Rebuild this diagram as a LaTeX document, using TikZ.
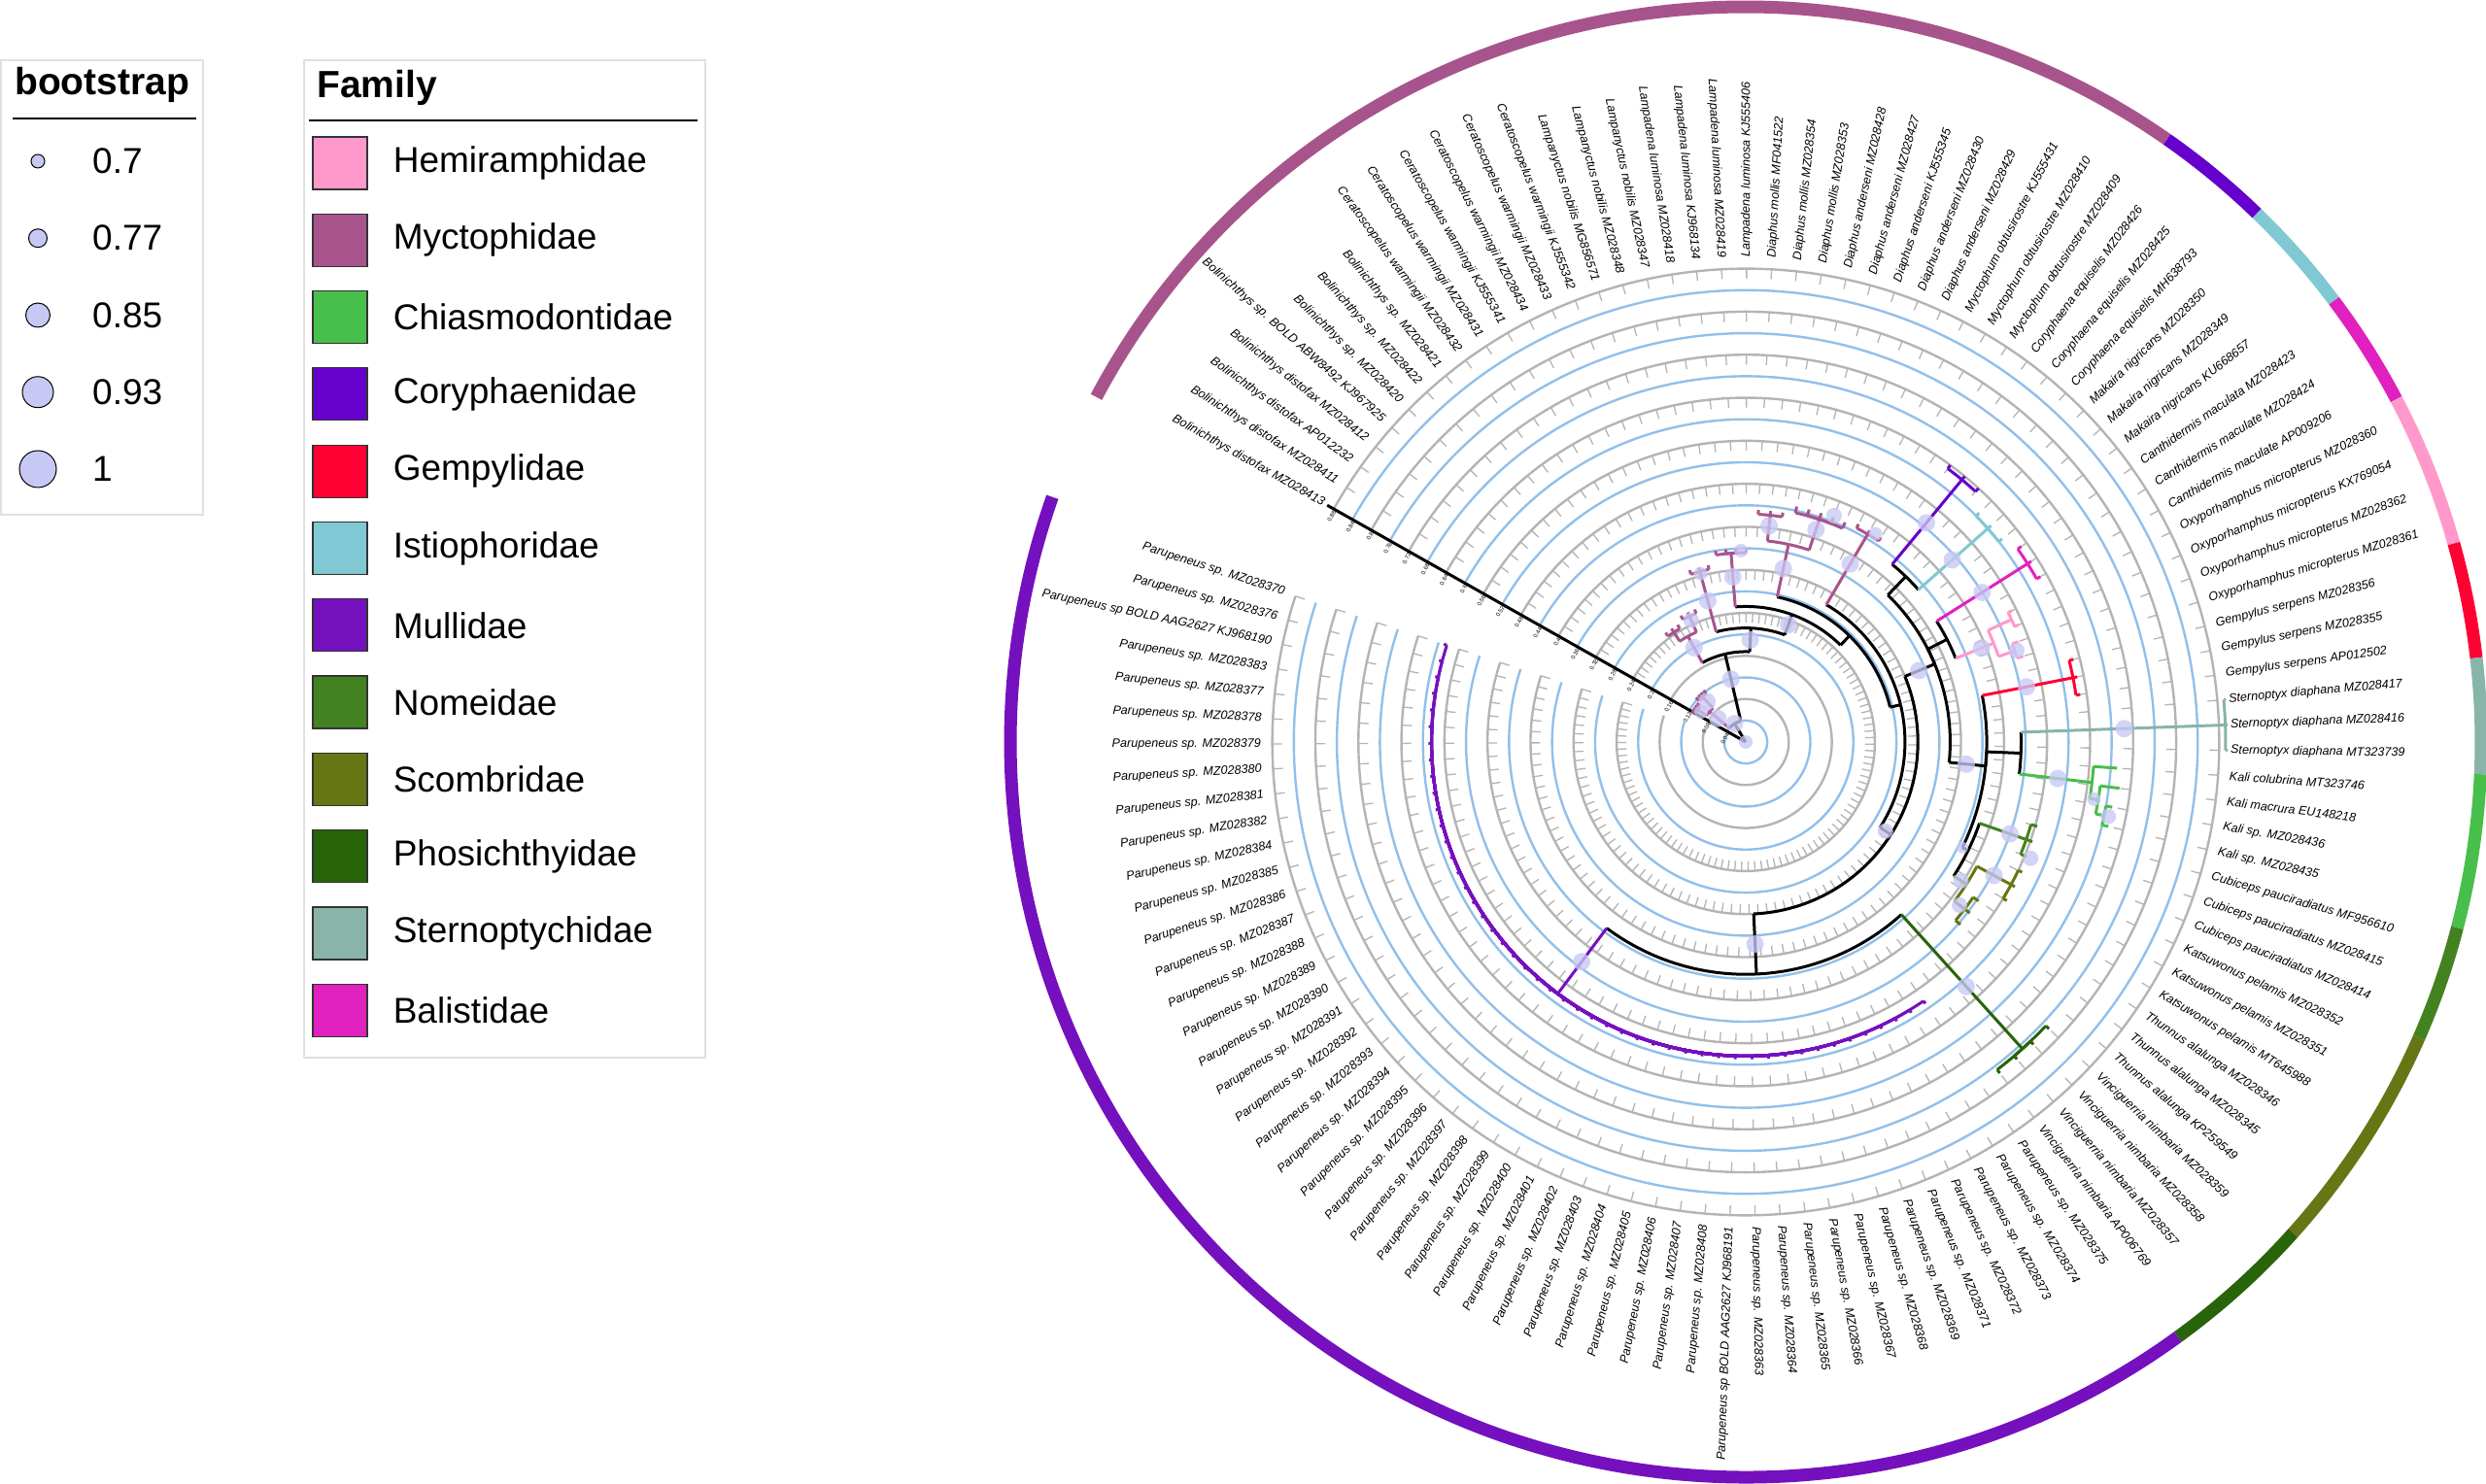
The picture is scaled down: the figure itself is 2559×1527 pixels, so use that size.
\documentclass[tikz,border=0pt]{standalone}
\usepackage{fontspec}
\setmainfont{Liberation Sans}
\usetikzlibrary{positioning}

% family colours
\definecolor{hemi}{RGB}{255,153,204}
\definecolor{myc}{RGB}{168,84,140}
\definecolor{chias}{RGB}{72,190,75}
\definecolor{cory}{RGB}{102,0,204}
\definecolor{gemp}{RGB}{255,0,51}
\definecolor{istio}{RGB}{128,200,212}
\definecolor{mull}{RGB}{117,16,190}
\definecolor{nome}{RGB}{67,130,32}
\definecolor{scomb}{RGB}{102,118,20}
\definecolor{phos}{RGB}{40,100,10}
\definecolor{stern}{RGB}{136,180,170}
\definecolor{bal}{RGB}{225,32,192}
\definecolor{gridgray}{RGB}{180,180,180}
\definecolor{gridblue}{RGB}{145,192,234}
\definecolor{bootfill}{RGB}{200,200,245}

\tikzset{%
  % Specifications for style of the circular grid and the tree:
        gridGray/.style = {draw=gridgray, line width=2.4pt},
        gridBlue/.style = {draw=gridblue, line width=2.4pt},
        gridTick/.style = {draw=gridgray, line width=1.3pt},
          branch/.style = {line width=3pt, line join=miter},
         famBand/.style = {line width=13pt},
         bootDot/.style = {fill=bootfill, fill opacity=0.78},
        axisLine/.style = {draw=black, line width=3pt},
       axisLabel/.style = {inner sep=0.5pt, font=\fontsize{6}{7}\selectfont},
       leafLabel/.style = {inner sep=0pt, font=\fontsize{12.6}{15}\selectfont\itshape},
  % Specifications for style of the legends:
     legendFrame/.style = {draw=black!12, line width=1.5pt},
      legendRule/.style = {draw=black, line width=1.6pt},
     legendTitle/.style = {inner sep=0pt, font=\fontsize{39}{46}\selectfont\bfseries},
      legendText/.style = {inner sep=0pt, font=\fontsize{37}{44}\selectfont},
       legendDot/.style = {circle, draw=black, line width=1pt, fill=bootfill, inner sep=0pt},
          swatch/.style = {rectangle, draw=black!80, line width=1.2pt,
                           minimum width=56pt, minimum height=54pt, inner sep=0pt},
}

% one grid step (0.04) in pt, and the angle of leaf number #1
\newcommand{\ucirc}{22.15}
\newcommand{\leafAng}[1]{150.5-3.03*(#1)}

% branch: arc colour, stem colour, parent radius, parent leaf-position, child radius, child leaf-position
\newcommand{\brn}[6]{%
  \pgfmathsetmacro{\angA}{\leafAng{#4}}%
  \pgfmathsetmacro{\angB}{\leafAng{#6}}%
  \pgfmathsetmacro{\radA}{(#3)*\ucirc}%
  \pgfmathsetmacro{\radB}{(#5)*\ucirc}%
  \draw[branch,#1] (\angA:\radA pt) arc[start angle=\angA,end angle=\angB,radius=\radA pt];%
  \draw[branch,#2] (\angB:\radA pt) -- (\angB:\radB pt);%
}
% bootstrap dot: leaf-position, radius, size
\newcommand{\bootAt}[3]{%
  \pgfmathsetmacro{\angA}{\leafAng{#1}}%
  \pgfmathsetmacro{\radA}{(#2)*\ucirc}%
  \fill[bootDot] (\angA:\radA pt) circle[radius=#3pt];%
}
% outer family band: colour, first leaf, last leaf
\newcommand{\famBandArc}[3]{%
  \pgfmathsetmacro{\angA}{\leafAng{#2-0.5}}%
  \pgfmathsetmacro{\angB}{\leafAng{#3+0.5}}%
  \draw[famBand,#1] (\angA:757pt) arc[start angle=\angA,end angle=\angB,radius=757pt];%
}

\begin{document}
\begin{tikzpicture}[x=1pt, y=1pt]
  \useasboundingbox (0,0) rectangle (2559,1527);
  \fill[white] (0,0) rectangle (2559,1527);

  % bootstrap legend
  \draw[legendFrame] (1,997) rectangle (209,1465);
  \node (bootTitle) [legendTitle, anchor=west] at (15,1440) {bootstrap};
  \draw[legendRule] (13,1405) -- (202,1405);
  \foreach \v/\rr [count=\i from 0] in {0.7/7,0.77/9.5,0.85/12.5,0.93/16,1/19} {
    \pgfmathsetmacro{\yy}{1361-79.25*\i}
    \node (bootDot\i) [legendDot, minimum size=2*\rr pt] at (39,\yy) {};
    \node (bootLab\i) [legendText, anchor=west] at (95,\yy) {\v};
  }

  % family legend
  \draw[legendFrame] (313,438) rectangle (726,1465);
  \node (famTitle) [legendTitle, anchor=west] at (326,1437) {Family};
  \draw[legendRule] (318,1403) -- (718,1403);
  \foreach \col/\fam [count=\i from 0] in {hemi/Hemiramphidae, myc/Myctophidae,
      chias/Chiasmodontidae, cory/Coryphaenidae, gemp/Gempylidae, istio/Istiophoridae,
      mull/Mullidae, nome/Nomeidae, scomb/Scombridae, phos/Phosichthyidae,
      stern/Sternoptychidae, bal/Balistidae} {
    \pgfmathsetmacro{\yy}{1359-79.3*\i}
    \node (famBox\i) [swatch, fill=\col] at (350,\yy) {};
    \node (famLab\i) [legendText, right=26pt of famBox\i] {\fam};
  }

  \begin{scope}[shift={(1797,763)}]
    % circular grid, every 0.04
    \foreach \k in {1,...,22} {
      \pgfmathsetmacro{\radA}{\k*\ucirc}
      \ifodd\k\relax
        \draw[gridBlue] (150.5:\radA pt) arc[start angle=150.5,end angle=-197.95,radius=\radA pt];
      \else
        \draw[gridGray] (150.5:\radA pt) arc[start angle=150.5,end angle=-197.95,radius=\radA pt];
      \fi
    }
    \foreach \k in {6,8,...,22} {
      \pgfmathsetmacro{\radA}{\k*\ucirc}
      \pgfmathsetmacro{\radB}{\k*\ucirc-10}
      \draw[gridTick] \foreach \j [evaluate=\j as \angA using 150.5-3.03*\j] in {0,...,115}
        {(\angA:\radA pt) -- (\angA:\radB pt)};
    }

    % outer band of families
    \famBandArc{myc}{0}{31}
    \famBandArc{cory}{32}{34}
    \famBandArc{istio}{35}{37}
    \famBandArc{bal}{38}{40}
    \famBandArc{hemi}{41}{44}
    \famBandArc{gemp}{45}{47}
    \famBandArc{stern}{48}{50}
    \famBandArc{chias}{51}{54}
    \famBandArc{nome}{55}{57}
    \famBandArc{scomb}{58}{63}
    \famBandArc{phos}{64}{67}
    \famBandArc{mull}{68}{115}

    % radial axis
    \coordinate (treeRoot) at (0,0);
    \coordinate (axisEnd) at (150.5:495pt);
    \draw[axisLine] (treeRoot) -- (axisEnd);
    \foreach \v [count=\k] in {0.04,0.08,0.12,0.16,0.2,0.24,0.28,0.32,0.36,0.4,0.44,
                               0.48,0.52,0.56,0.6,0.64,0.68,0.72,0.76,0.8,0.84,0.88} {
      \pgfmathsetmacro{\radA}{\k*\ucirc}
      \node (axisTick\k) [axisLabel, rotate=60.5, anchor=east, xshift=-1pt, yshift=-1.8pt]
        at (150.5:\radA pt) {\v};
    }

    % backbone of the tree
    \brn{black}{black}{0.01}{9.6}{1.0}{9.6}
    \brn{black}{myc}{1.0}{9.6}{2.2}{3.5}
    \brn{black}{black}{1.0}{9.6}{4.2}{15.6}
    \brn{myc}{myc}{2.2}{3.5}{2.7}{1.5}
    \brn{myc}{myc}{2.2}{3.5}{2.9}{5.5}
    \foreach \k in {0,...,3} {\brn{myc}{myc}{2.7}{1.5}{2.9}{\k}}
    \foreach \k in {4,...,7} {\brn{myc}{myc}{2.9}{5.5}{3.1}{\k}}
    \brn{black}{myc}{4.2}{15.6}{5.6}{10.5}
    \brn{black}{black}{4.2}{15.6}{5.3}{20.8}
    \brn{myc}{myc}{5.6}{10.5}{6.1}{9}
    \brn{myc}{myc}{5.6}{10.5}{6.4}{12}
    \foreach \k in {8,...,10} {\brn{myc}{myc}{6.1}{9}{6.3}{\k}}
    \foreach \k in {11,...,13} {\brn{myc}{myc}{6.4}{12}{6.6}{\k}}
    \brn{black}{myc}{5.3}{20.8}{8.2}{15}
    \brn{black}{black}{5.3}{20.8}{6.3}{26.55}
    \foreach \k in {14,...,16} {\brn{myc}{myc}{8.2}{15}{8.4}{\k}}
    \brn{black}{myc}{6.3}{26.55}{8.8}{18.5}
    \brn{black}{black}{6.3}{26.55}{6.9}{34.6}
    \foreach \k in {17,...,20} {\brn{myc}{myc}{8.8}{18.5}{9.0}{\k}}
    \brn{black}{myc}{6.9}{34.6}{9.4}{24}
    \brn{black}{black}{6.9}{34.6}{7.4}{45.2}
    \brn{myc}{myc}{9.4}{24}{10.6}{22}
    \brn{myc}{myc}{9.4}{24}{10.9}{26}
    \foreach \k in {21,...,23} {\brn{myc}{myc}{10.6}{22}{10.8}{\k}}
    \foreach \k in {24,...,28} {\brn{myc}{myc}{10.9}{26}{11.2}{\k}}
    \brn{black}{myc}{7.4}{45.2}{11.2}{30}
    \brn{black}{black}{7.4}{45.2}{8.0}{60.4}
    \foreach \k in {29,...,31} {\brn{myc}{myc}{11.2}{30}{11.4}{\k}}
    \brn{black}{black}{8.0}{60.4}{9.5}{42.27}
    \brn{black}{black}{8.0}{60.4}{10.8}{78.5}
    \brn{black}{black}{9.5}{42.27}{10.7}{34.5}
    \brn{black}{black}{9.5}{42.27}{10.5}{40.75}
    \brn{black}{black}{9.5}{42.27}{11.2}{51.56}
    % upper families
    \brn{black}{cory}{10.7}{34.5}{15.8}{33}
    \brn{black}{istio}{10.7}{34.5}{15.0}{36}
    \foreach \k in {32,...,34} {\brn{cory}{cory}{15.8}{33}{16.0}{\k}}
    \foreach \k in {35,...,37} {\brn{istio}{istio}{15.0}{36}{15.2}{\k}}
    \brn{black}{bal}{10.5}{40.75}{15.5}{39}
    \brn{black}{hemi}{10.5}{40.75}{12.4}{42.5}
    \foreach \k in {38,...,40} {\brn{bal}{bal}{15.5}{39}{15.7}{\k}}
    \brn{hemi}{hemi}{12.4}{42.5}{13.6}{41.5}
    \brn{hemi}{hemi}{12.4}{42.5}{13.2}{43.5}
    \foreach \k in {41,42} {\brn{hemi}{hemi}{13.6}{41.5}{13.8}{\k}}
    \foreach \k in {43,44} {\brn{hemi}{hemi}{13.2}{43.5}{13.5}{\k}}
    \brn{black}{gemp}{11.2}{51.56}{15.5}{46}
    \brn{black}{black}{11.2}{51.56}{12.8}{50.44}
    \brn{black}{black}{11.2}{51.56}{11.5}{58.25}
    \foreach \k in {45,...,47} {\brn{gemp}{gemp}{15.5}{46}{15.7}{\k}}
    \brn{black}{stern}{12.8}{50.44}{22.3}{49}
    \brn{black}{chias}{12.8}{50.44}{16.2}{51.875}
    \foreach \k in {48,...,50} {\brn{stern}{stern}{22.3}{49}{22.4}{\k}}
    \brn{chias}{chias}{16.2}{51.875}{17.3}{51}
    \brn{chias}{chias}{16.2}{51.875}{16.6}{52.75}
    \brn{chias}{chias}{16.6}{52.75}{17.5}{52}
    \brn{chias}{chias}{16.6}{52.75}{17.0}{53.5}
    \foreach \k in {53,54} {\brn{chias}{chias}{17.0}{53.5}{17.3}{\k}}
    \brn{black}{nome}{11.5}{58.25}{13.8}{56}
    \brn{black}{scomb}{11.5}{58.25}{12.2}{60.5}
    \foreach \k in {55,...,57} {\brn{nome}{nome}{13.8}{56}{14.1}{\k}}
    \brn{scomb}{scomb}{12.2}{60.5}{14.0}{59}
    \brn{scomb}{scomb}{12.2}{60.5}{12.8}{62}
    \foreach \k in {58,...,60} {\brn{scomb}{scomb}{14.0}{59}{14.2}{\k}}
    \foreach \k in {61,...,63} {\brn{scomb}{scomb}{12.8}{62}{13.1}{\k}}
    % lower families
    \brn{black}{phos}{10.8}{78.5}{19.2}{65.5}
    \brn{black}{mull}{10.8}{78.5}{14.6}{91.5}
    \foreach \k in {64,...,67} {\brn{phos}{phos}{19.2}{65.5}{19.4}{\k}}
    \foreach \k in {68,...,115} {\brn{mull}{mull}{14.6}{91.5}{14.75}{\k}}

    % bootstrap support
    \bootAt{9.6}{0}{7}
    \bootAt{9.6}{1.0}{9}
    \bootAt{3.5}{1.7}{9}
    \bootAt{5.5}{2.6}{9}
    \bootAt{1.5}{2.5}{7}
    \bootAt{15.6}{3.0}{9}
    \bootAt{20.8}{4.75}{9}
    \bootAt{10.5}{5.0}{9}
    \bootAt{12}{6.2}{8}
    \bootAt{15}{6.8}{9}
    \bootAt{15}{8.1}{7}
    \bootAt{26.55}{5.8}{9}
    \bootAt{18.5}{7.7}{9}
    \bootAt{19.5}{8.9}{7}
    \bootAt{24}{8.25}{9}
    \bootAt{22}{10.1}{9}
    \bootAt{26}{10.4}{9}
    \bootAt{27}{11.3}{8}
    \bootAt{30}{9.6}{9}
    \bootAt{30.5}{11.4}{7}
    \bootAt{42.27}{8.7}{9}
    \bootAt{60.4}{7.7}{8}
    \bootAt{33}{13.2}{9}
    \bootAt{36}{12.8}{9}
    \bootAt{39}{13.0}{9}
    \bootAt{42.5}{11.8}{9}
    \bootAt{43.5}{13.3}{8}
    \bootAt{46}{13.3}{9}
    \bootAt{51.56}{10.3}{9}
    \bootAt{49}{17.6}{9}
    \bootAt{51.875}{14.6}{9}
    \bootAt{52.75}{16.4}{7}
    \bootAt{53.5}{17.2}{8}
    \bootAt{56}{13.0}{9}
    \bootAt{57}{14.3}{8}
    \bootAt{58.25}{11.2}{6}
    \bootAt{60.5}{11.9}{8}
    \bootAt{59}{13.1}{9}
    \bootAt{62}{12.5}{8}
    \bootAt{78.5}{9.4}{9}
    \bootAt{91.5}{12.75}{9}
    \bootAt{65.5}{15.3}{9}

    % leaf labels
    \foreach \lab [count=\k from 0] in {
      Bolinichthys distofax MZ028413, Bolinichthys distofax MZ028411,
      Bolinichthys distofax AP012232, Bolinichthys distofax MZ028412,
      Bolinichthys sp. BOLD ABW8492 KJ967925, Bolinichthys sp. MZ028420,
      Bolinichthys sp. MZ028422, Bolinichthys sp. MZ028421,
      Ceratoscopelus warmingii MZ028432, Ceratoscopelus warmingii MZ028431,
      Ceratoscopelus warmingii KJ555341, Ceratoscopelus warmingii MZ028434,
      Ceratoscopelus warmingii MZ028433, Ceratoscopelus warmingii KJ555342,
      Lampanyctus nobilis MG856571, Lampanyctus nobilis MZ028348,
      Lampanyctus nobilis MZ028347, Lampadena luminosa MZ028418,
      Lampadena luminosa KJ968134, Lampadena luminosa MZ028419,
      Lampadena luminosa KJ555406, Diaphus mollis MF041522,
      Diaphus mollis MZ028354, Diaphus mollis MZ028353,
      Diaphus anderseni MZ028428, Diaphus anderseni MZ028427,
      Diaphus anderseni KJ555345, Diaphus anderseni MZ028430,
      Diaphus anderseni MZ028429, Myctophum obtusirostre KJ555431,
      Myctophum obtusirostre MZ028410, Myctophum obtusirostre MZ028409,
      Coryphaena equiselis MZ028426, Coryphaena equiselis MZ028425,
      Coryphaena equiselis MH638793, Makaira nigricans MZ028350,
      Makaira nigricans MZ028349, Makaira nigricans KU668657,
      Canthidermis maculata MZ028423, Canthidermis maculate MZ028424,
      Canthidermis maculate AP009206, Oxyporhamphus micropterus MZ028360,
      Oxyporhamphus micropterus KX769054, Oxyporhamphus micropterus MZ028362,
      Oxyporhamphus micropterus MZ028361, Gempylus serpens MZ028356,
      Gempylus serpens MZ028355, Gempylus serpens AP012502,
      Sternoptyx diaphana MZ028417, Sternoptyx diaphana MZ028416,
      Sternoptyx diaphana MT323739, Kali colubrina MT323746,
      Kali macrura EU148218, Kali sp. MZ028436, Kali sp. MZ028435,
      Cubiceps pauciradiatus MF956610, Cubiceps pauciradiatus MZ028415,
      Cubiceps pauciradiatus MZ028414, Katsuwonus pelamis MZ028352,
      Katsuwonus pelamis MZ028351, Katsuwonus pelamis MT645988,
      Thunnus alalunga MZ028346, Thunnus alalunga MZ028345,
      Thunnus alalunga KP259549, Vinciguerria nimbaria MZ028359,
      Vinciguerria nimbaria MZ028358, Vinciguerria nimbaria MZ028357,
      Vinciguerria nimbaria AP006769, Parupeneus sp. MZ028375,
      Parupeneus sp. MZ028374, Parupeneus sp. MZ028373, Parupeneus sp. MZ028372,
      Parupeneus sp. MZ028371, Parupeneus sp. MZ028369, Parupeneus sp. MZ028368,
      Parupeneus sp. MZ028367, Parupeneus sp. MZ028366, Parupeneus sp. MZ028365,
      Parupeneus sp. MZ028364, Parupeneus sp. MZ028363,
      Parupeneus sp BOLD AAG2627 KJ968191, Parupeneus sp. MZ028408,
      Parupeneus sp. MZ028407, Parupeneus sp. MZ028406, Parupeneus sp. MZ028405,
      Parupeneus sp. MZ028404, Parupeneus sp. MZ028403, Parupeneus sp. MZ028402,
      Parupeneus sp. MZ028401, Parupeneus sp. MZ028400, Parupeneus sp. MZ028399,
      Parupeneus sp. MZ028398, Parupeneus sp. MZ028397, Parupeneus sp. MZ028396,
      Parupeneus sp. MZ028395, Parupeneus sp. MZ028394, Parupeneus sp. MZ028393,
      Parupeneus sp. MZ028392, Parupeneus sp. MZ028391, Parupeneus sp. MZ028390,
      Parupeneus sp. MZ028389, Parupeneus sp. MZ028388, Parupeneus sp. MZ028387,
      Parupeneus sp. MZ028386, Parupeneus sp. MZ028385, Parupeneus sp. MZ028384,
      Parupeneus sp. MZ028382, Parupeneus sp. MZ028381, Parupeneus sp. MZ028380,
      Parupeneus sp. MZ028379, Parupeneus sp. MZ028378, Parupeneus sp. MZ028377,
      Parupeneus sp. MZ028383, Parupeneus sp BOLD AAG2627 KJ968190,
      Parupeneus sp. MZ028376, Parupeneus sp. MZ028370} {
      \pgfmathsetmacro{\angA}{\leafAng{\k}}
      \pgfmathparse{(\angA>-90)*(\angA<90.5)}
      \ifdim\pgfmathresult pt>0.5pt
        \node (leaf\k) [leafLabel, rotate=\angA, anchor=west] at (\angA:499pt) {\lab};
      \else
        \pgfmathsetmacro{\angB}{\angA+180}
        \node (leaf\k) [leafLabel, rotate=\angB, anchor=east] at (\angA:499pt) {\lab};
      \fi
    }
  \end{scope}
\end{tikzpicture}
\end{document}
